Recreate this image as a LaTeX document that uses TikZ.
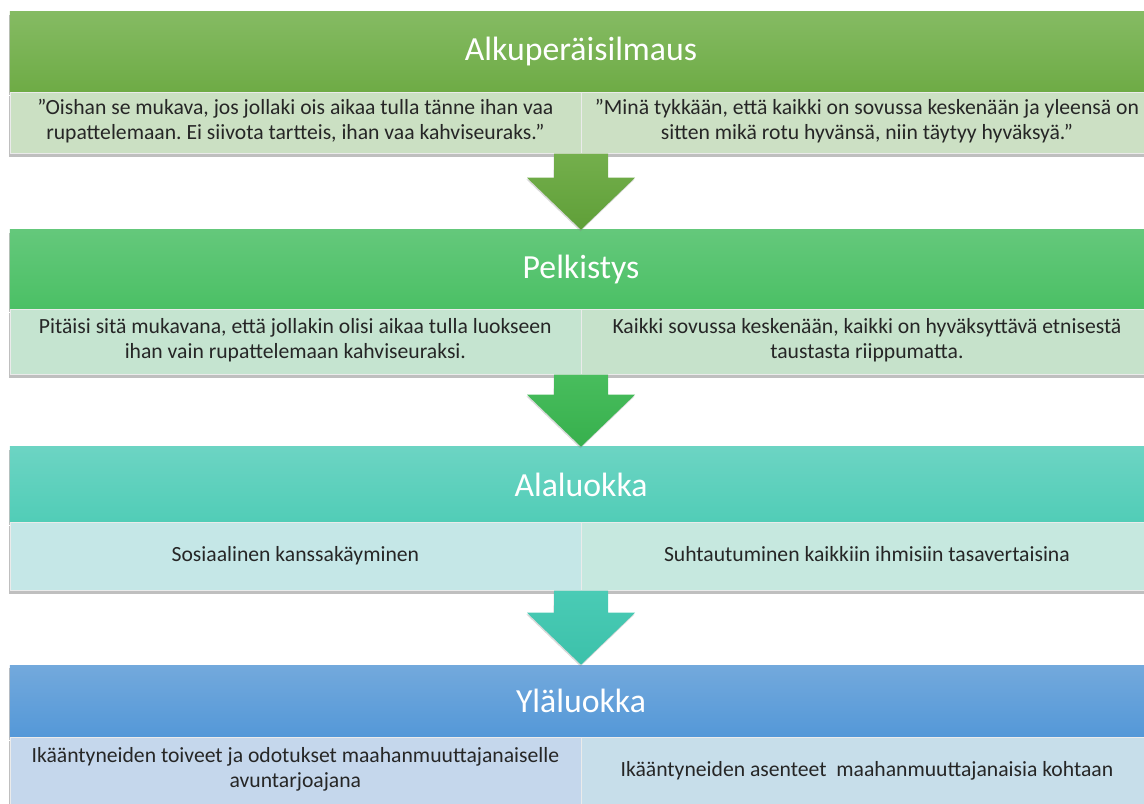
\documentclass[tikz,border=0pt]{standalone}
\usepackage{fontspec}
\setmainfont{Carlito}
\usetikzlibrary{positioning,calc,shadows}
\frenchspacing

% colours of the four levels
\definecolor{headAtop}{RGB}{133,187,99}
\definecolor{headAbot}{RGB}{110,171,69}
\definecolor{headBtop}{RGB}{100,200,123}
\definecolor{headBbot}{RGB}{75,192,101}
\definecolor{headCtop}{RGB}{108,212,195}
\definecolor{headCbot}{RGB}{81,205,183}
\definecolor{headDtop}{RGB}{115,169,220}
\definecolor{headDbot}{RGB}{84,152,216}
\definecolor{boxAl}{RGB}{203,224,195}
\definecolor{boxAr}{RGB}{204,224,196}
\definecolor{boxBl}{RGB}{197,228,208}
\definecolor{boxBr}{RGB}{198,226,203}
\definecolor{boxCl}{RGB}{197,231,231}
\definecolor{boxCr}{RGB}{198,232,223}
\definecolor{boxDl}{RGB}{197,215,236}
\definecolor{boxDr}{RGB}{199,222,234}
\definecolor{arrAtop}{RGB}{116,175,76}
\definecolor{arrAbot}{RGB}{95,159,56}
\definecolor{arrBtop}{RGB}{72,189,93}
\definecolor{arrBbot}{RGB}{55,176,77}
\definecolor{arrCtop}{RGB}{74,203,181}
\definecolor{arrCbot}{RGB}{60,193,170}

\begin{document}
\begin{tikzpicture}[x=0.025cm,y=-0.025cm,
    level/.style={inner sep=0pt,minimum width=28.55cm,text=white,
        font=\fontsize{24}{28}\selectfont,
        drop shadow={shadow xshift=-0.4pt,shadow yshift=-2.2pt,opacity=0.5}},
    cell/.style={inner sep=0pt,minimum width=14.275cm,align=center,
        draw=black!8,line width=0.3pt,text=black!85,
        font=\fontsize{15.4}{17.8}\selectfont,
        execute at begin node=\strut,execute at end node=\strut,
        drop shadow={shadow xshift=-0.4pt,shadow yshift=-2.2pt,opacity=0.5}},
    flow/.style={drop shadow={shadow xshift=-0.4pt,shadow yshift=-1.2pt,opacity=0.3}}
]
\useasboundingbox (0,0) rectangle (1144,803);

% Alkuperäisilmaus
\node[level,minimum height=2cm,top color=headAtop,bottom color=headAbot] (h1) at (581,52) {Alkuperäisilmaus};
\node[cell,minimum height=1.525cm,fill=boxAl,below right=0pt and 0pt of h1.south west] (l1)
    {”Oishan se mukava, jos jollaki ois aikaa tulla tänne ihan vaa\\rupattelemaan. Ei siivota tartteis, ihan vaa kahviseuraks.”};
\node[cell,minimum height=1.525cm,fill=boxAr,right=0pt of l1] (r1)
    {”Minä tykkään, että kaikki on sovussa keskenään ja yleensä on\\sitten mikä rotu hyvänsä, niin täytyy hyväksyä.”};

% Pelkistys
\node[level,minimum height=1.975cm,top color=headBtop,bottom color=headBbot] (h2) at (581,269.5) {Pelkistys};
\node[cell,minimum height=1.625cm,fill=boxBl,below right=0pt and 0pt of h2.south west] (l2)
    {Pitäisi sitä mukavana, että jollakin olisi aikaa tulla luokseen\\ihan vain rupattelemaan kahviseuraksi.};
\node[cell,minimum height=1.625cm,fill=boxBr,right=0pt of l2] (r2)
    {Kaikki sovussa keskenään, kaikki on hyväksyttävä etnisestä\\taustasta riippumatta.};

% Alaluokka
\node[level,minimum height=1.875cm,top color=headCtop,bottom color=headCbot] (h3) at (581,484.5) {Alaluokka};
\node[cell,minimum height=1.7cm,fill=boxCl,below right=0pt and 0pt of h3.south west] (l3)
    {Sosiaalinen kanssakäyminen};
\node[cell,minimum height=1.7cm,fill=boxCr,right=0pt of l3] (r3)
    {Suhtautuminen kaikkiin ihmisiin tasavertaisina};

% Yläluokka
\node[level,minimum height=1.8cm,top color=headDtop,bottom color=headDbot] (h4) at (581,701) {Yläluokka};
\node[cell,minimum height=1.7cm,fill=boxDl,below right=0pt and 0pt of h4.south west] (l4)
    {Ikääntyneiden toiveet ja odotukset maahanmuuttajanaiselle\\avuntarjoajana};
\node[cell,minimum height=1.7cm,fill=boxDr,right=0pt of l4] (r4)
    {Ikääntyneiden asenteet\ \ maahanmuuttajanaisia kohtaan};

% arrows between the levels
\path[flow,top color=arrAtop,bottom color=arrAbot]
    ($(l1.south east)+(-27,0)$) -- ($(h2.north)+(-27,-52)$) -- ($(h2.north)+(-54,-52)$) -- (h2.north)
    -- ($(h2.north)+(54,-52)$) -- ($(h2.north)+(27,-52)$) -- ($(l1.south east)+(27,0)$) -- cycle;
\path[flow,top color=arrBtop,bottom color=arrBbot]
    ($(l2.south east)+(-27,0)$) -- ($(h3.north)+(-27,-52)$) -- ($(h3.north)+(-54,-52)$) -- (h3.north)
    -- ($(h3.north)+(54,-52)$) -- ($(h3.north)+(27,-52)$) -- ($(l2.south east)+(27,0)$) -- cycle;
\path[flow,top color=arrCtop,bottom color=arrCbot]
    ($(l3.south east)+(-27,0)$) -- ($(h4.north)+(-27,-52)$) -- ($(h4.north)+(-54,-52)$) -- (h4.north)
    -- ($(h4.north)+(54,-52)$) -- ($(h4.north)+(27,-52)$) -- ($(l3.south east)+(27,0)$) -- cycle;
\end{tikzpicture}
\end{document}
